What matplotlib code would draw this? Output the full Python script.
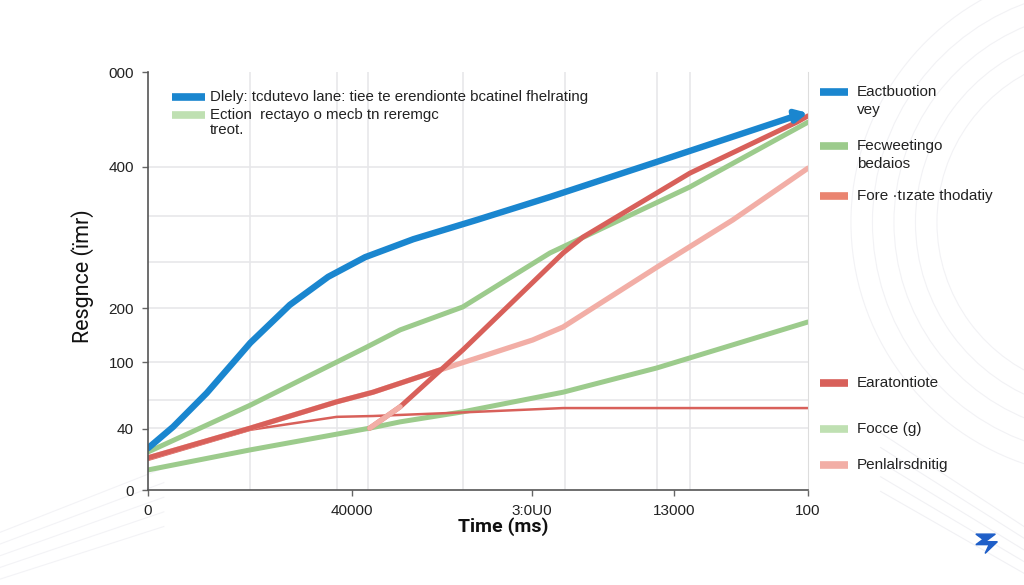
import matplotlib
matplotlib.use("agg")
import matplotlib.pyplot as plt
from matplotlib.lines import Line2D
from matplotlib.patches import Arc, Polygon

# ---- data (axis units 0..100 on both axes) ----
blue_x = [0, 3.8, 8.9, 15.5, 21.5, 27.3, 32.9, 40.2, 49.8, 60.9, 77.1, 98.5, 100]
blue_y = [10.0, 15.1, 23.2, 35.2, 44.3, 51.0, 55.7, 60.0, 64.6, 70.1, 78.5, 89.7, 90.2]

green_hi_x = [0, 15.5, 32.9, 38.2, 47.7, 60.9, 82.1, 100]
green_hi_y = [9.1, 20.3, 34.0, 38.3, 43.8, 56.7, 72.5, 88.0]

green_lo_x = [0, 15.5, 33.6, 38.2, 47.7, 62.9, 77.1, 100]
green_lo_y = [4.8, 9.6, 14.8, 16.3, 18.7, 23.4, 29.2, 40.2]

red_flat_x = [0, 15.5, 28.6, 34.1, 45.3, 62.9, 100]
red_flat_y = [7.2, 14.4, 17.5, 17.7, 18.4, 19.6, 19.6]

pink_x = [0, 15.5, 28.6, 34.1, 44.2, 50.3, 58.3, 62.9, 77.1, 88.6, 100]
pink_y = [7.7, 14.8, 21.1, 23.4, 28.7, 31.8, 35.9, 39.0, 53.3, 64.6, 77.0]
pink_red_part = 4  # first points of the pink curve are drawn red

red_steep_x = [33.6, 38.2, 47.7, 62.9, 65.9, 82.1, 98.3, 100]
red_steep_y = [14.8, 19.9, 33.5, 56.7, 60.5, 75.8, 88.0, 89.5]

xtick_pos = [0, 30.9, 58.2, 79.7, 100]
xtick_lab = ["0", "40000", "3:0U0", "13000", "100"]
ytick_pos = [0, 14.6, 30.6, 43.5, 77.3, 100]
ytick_lab = ["0", "40", "100", "200", "400", "000"]
xgrid = [15.5, 28.6, 33.3, 47.7, 63.2, 77.1, 82.1]
ygrid = [14.8, 21.5, 30.6, 43.5, 54.5, 65.6, 77.3]

legend_top = [
    "Dlely: tcdutevo lane: tiee te erendionte bcatinel fhelrating",
    "Ection  rectayo o mecb tn reremgc\ntreot.",
]
legend_right = [
    "Eactbuotion\nvey",
    "Fecweetingo\nbedaios",
    "Fore \u00b7tızate thodatiy",
    "Earatontiote",
    "Focce (g)",
    "Penlalrsdnitig",
]

BLUE = "#1a86cf"
GREEN = "#9ccb8c"
RED = "#d8605a"
PINK = "#f2aea6"
SALMON = "#ea8470"
LGREEN = "#bfe0b2"
GRID = "#e7e7ea"

plt.rcParams["font.family"] = ["Liberation Sans", "DejaVu Sans"]

fig = plt.figure(figsize=(10.24, 5.85), dpi=100)

# faint decorative arcs in background
for r in [0.55, 0.62, 0.69, 0.76, 0.83]:
    fig.add_artist(Arc((1.08, 0.62), r * 0.6, r * 1.05, theta1=100, theta2=260,
                       transform=fig.transFigure, color="#f2f2f5", lw=0.8, zorder=-5))
for i in range(5):
    fig.add_artist(Line2D([0.0, 0.16], [0.01 + i * 0.02, 0.10 + i * 0.025],
                          transform=fig.transFigure, color="#f3f3f6", lw=0.8, zorder=-5))
    fig.add_artist(Line2D([0.86, 1.0], [0.16 + i * 0.025, 0.02 + i * 0.02],
                          transform=fig.transFigure, color="#f1f1f4", lw=0.8, zorder=-5))

ax = fig.add_axes([148 / 1024, 95 / 585, 660 / 1024, 418 / 585])
ax.set_xlim(0, 100)
ax.set_ylim(0, 100)
ax.patch.set_alpha(0)

ax.set_xticks(xtick_pos)
ax.set_xticklabels(xtick_lab, fontsize=11)
ax.set_yticks(ytick_pos)
ax.set_yticklabels(ytick_lab, fontsize=11)
ax.tick_params(which="major", length=4, width=1, color="#666666", pad=6, labelcolor="#222222")

# grid lines sit at their own positions, not on the ticks
for gx in xgrid:
    ax.axvline(gx, color=GRID, lw=1.2, zorder=0)
for gy in ygrid:
    ax.axhline(gy, color=GRID, lw=1.2, zorder=0)

for s in ["left", "bottom"]:
    ax.spines[s].set_color("#555555")
    ax.spines[s].set_linewidth(1.2)
ax.spines["top"].set_visible(False)
ax.spines["right"].set_color("#dddddd")

# lines
kw = dict(solid_capstyle="round", solid_joinstyle="round")
ax.plot(green_lo_x, green_lo_y, color=GREEN, lw=3.6, **kw)
ax.plot(red_flat_x, red_flat_y, color=RED, lw=1.8, **kw)
ax.plot(pink_x, pink_y, color=PINK, lw=3.8, **kw)
ax.plot(pink_x[:pink_red_part + 1], pink_y[:pink_red_part + 1], color=RED, lw=3.6, **kw)
ax.plot(green_hi_x, green_hi_y, color=GREEN, lw=3.6, **kw)
ax.plot(red_steep_x, red_steep_y, color=RED, lw=3.6, **kw)
ax.plot(red_steep_x[:2], red_steep_y[:2], color=PINK, lw=3.8, **kw)
ax.plot(blue_x[:-1], blue_y[:-1], color=BLUE, lw=4.6, **kw)
ax.annotate("", xy=(blue_x[-1], blue_y[-1]), xytext=(blue_x[-2], blue_y[-2]),
            arrowprops=dict(arrowstyle="-|>,head_width=0.35,head_length=0.7",
                            color=BLUE, lw=4, shrinkA=0, shrinkB=0))

# axis labels
fig.text(503 / 1024, 1 - 527 / 585, "Time (ms)", fontsize=14, ha="center", va="center",
         color="#111111", fontweight="bold", family=["Roboto", "DejaVu Sans"])
fig.text(83 / 1024, 1 - 276 / 585, "Resgnce (ïmr)", fontsize=15.5, ha="center", va="center",
         rotation=90, color="#111111", family=["Roboto", "DejaVu Sans"])

# top-left legend
top_rows = [(BLUE, 97), (LGREEN, 115)]
for (col, yp), lab in zip(top_rows, legend_top):
    y = 1 - yp / 585
    fig.add_artist(Line2D([172 / 1024, 205 / 1024], [y, y], transform=fig.transFigure,
                          color=col, lw=5.5, solid_capstyle="butt"))
    for k, ln in enumerate(lab.split("\n")):
        fig.text(210 / 1024, y - k * 15 / 585, ln, fontsize=10.8, va="center", ha="left",
                 color="#222222")

# right legend
right_rows = [(BLUE, 92), (GREEN, 146), (SALMON, 196), (RED, 383), (LGREEN, 429), (PINK, 465)]
for (col, yp), lab in zip(right_rows, legend_right):
    y = 1 - yp / 585
    fig.add_artist(Line2D([820 / 1024, 848 / 1024], [y, y], transform=fig.transFigure,
                          color=col, lw=5.5, solid_capstyle="butt"))
    for k, ln in enumerate(lab.split("\n")):
        fig.text(857 / 1024, y - k * 18 / 585, ln, fontsize=11, va="center", ha="left",
                 color="#222222")

# small logo bottom right
fig.add_artist(Polygon([[0.953, 0.087], [0.972, 0.087], [0.962, 0.074], [0.974, 0.074],
                        [0.962, 0.054], [0.966, 0.069], [0.953, 0.069], [0.960, 0.078]],
                       closed=True, transform=fig.transFigure, color="#1f5fc8"))

fig.savefig("out.png", dpi=100)
